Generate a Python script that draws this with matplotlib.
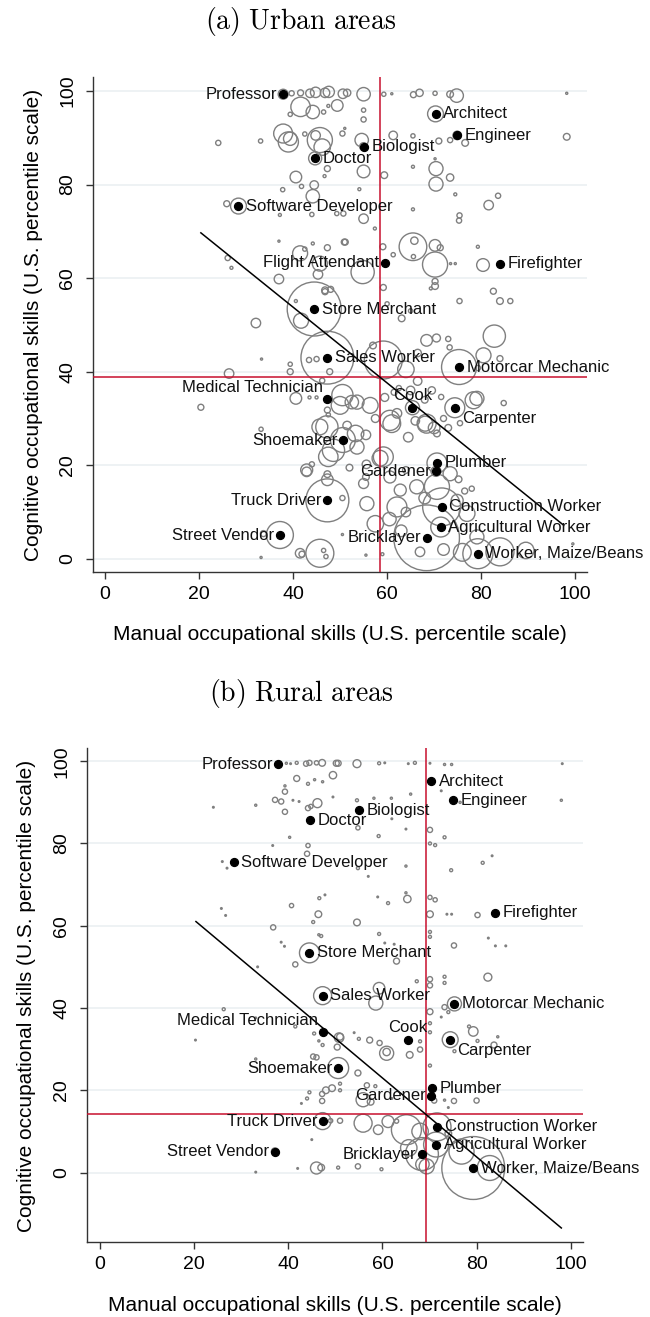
import numpy as np
import matplotlib
matplotlib.use('Agg')
import matplotlib.pyplot as plt

plt.rcParams['font.family'] = ['Liberation Sans', 'DejaVu Sans']
plt.rcParams['mathtext.fontset'] = 'cm'

# labelled occupations: (manual pct, cognitive pct) are the same in both areas
occ_names = ['Professor', 'Doctor', 'Software Developer', 'Architect', 'Engineer', 'Biologist',
             'Flight Attendant', 'Firefighter', 'Store Merchant', 'Sales Worker', 'Medical Technician',
             'Shoemaker', 'Truck Driver', 'Street Vendor', 'Motorcar Mechanic', 'Cook', 'Carpenter',
             'Plumber', 'Gardener', 'Construction Worker', 'Agricultural Worker', 'Bricklayer',
             'Worker, Maize/Beans']
occ_manual = [37.9, 44.7, 28.4, 70.3, 74.9, 55.0, 59.5, 84.0, 44.5, 47.3, 47.3, 50.6, 47.3, 37.2,
              75.3, 65.4, 74.4, 70.6, 70.4, 71.6, 71.4, 68.4, 79.3]
occ_cognitive = [99.3, 85.6, 75.4, 95.1, 90.5, 88.1, 63.3, 63.1, 53.4, 43.0, 34.2, 25.4, 12.5, 5.1,
                 41.0, 32.3, 32.3, 20.5, 18.7, 11.1, 6.8, 4.5, 1.1]
# employment weight (circle size); nan = occupation not present
occ_w_urban = [0.11, 0.19, 0.28, 0.28, 0.08, 0.07, 0.01, 0.01, 3.24, 3.1, 0.03, 0.69, 2.05, 0.81,
               1.36, 0.22, 0.44, 0.44, 0.11, 1.6, 0.44, 4.8, 1.0]
occ_w_rural = [0.005, 0.005, 0.005, 0.005, 0.005, 0.005, np.nan, 0.005, 0.44, 0.36, 0.005, 0.49,
               0.32, 0.06, 0.22, 0.005, 0.28, 0.005, 0.005, 0.87, 0.69, 1.2, 4.4]
label_side = ['l', 'r', 'r', 'r', 'r', 'r', 'l', 'r', 'r', 'r', 'ul', 'l', 'l', 'l', 'r', 'u', 'dr',
              'r', 'l', 'r', 'r', 'l', 'r']

# all other occupations, urban
urban_x = [39.7, 41.6, 43.6, 44.8, 46.8, 47.6, 50.6, 51.5, 55.0, 59.3, 61.0, 65.6, 66.9, 70.2, 73.4, 74.8, 98.2,
           41.6, 44.2, 39.4, 46.5, 47.5, 49.4, 55.0, 55.0,
           37.9, 39.4, 39.0, 42.5, 45.7, 46.2, 44.8, 50.5, 51.0, 54.6, 61.3, 65.5, 71.0, 73.4, 76.6, 98.2, 24.1, 33.1,
           47.3, 40.6, 41.8, 44.5, 44.2, 37.8, 46.7, 55.0, 59.4, 65.5, 70.4, 70.4, 73.4, 70.2,
           54.1, 74.5, 83.6, 81.6, 65.5, 75.4, 75.3, 55.0, 57.4, 50.7, 25.9, 37.2, 44.0, 49.3,
           37.0, 41.5, 42.5, 44.2, 47.3, 50.9, 26.1, 26.9, 37.0, 45.3, 46.8, 45.7, 51.1, 59.1, 61.3, 65.5, 65.8,
           65.6, 70.2, 71.3, 70.2, 73.5, 74.5, 79.3, 80.4, 54.8, 59.2, 69.3, 70.2, 70.2, 82.6,
           75.4, 84.0, 86.2, 63.1, 65.0, 32.1, 40.6, 41.7, 46.8, 48.0, 60.0,
           82.8, 68.4, 70.5, 73.0, 73.3, 59.2, 80.5, 84.0, 79.3, 33.3, 39.4, 39.4, 26.4, 43.4, 45.0, 47.8,
           46.2, 64.0, 66.5, 57.0,
           20.4, 40.6, 43.5, 45.0, 47.3, 47.5, 50.5, 52.5, 50.0, 53.6, 56.4, 59.5, 61.5, 62.5, 65.0, 66.5,
           69.5, 71.5, 78.4, 79.1, 84.8, 68.0,
           60.6, 62.1, 68.4, 70.0, 61.0, 68.1, 70.6, 47.2, 45.7, 53.3, 48.6, 53.6, 59.2, 47.5, 42.9, 44.0,
           47.3, 47.3, 33.2, 58.5, 55.5, 57.5, 64.5, 66.0, 73.0, 75.5, 72.0, 51.5, 55.6,
           66.3, 62.8, 62.1, 55.7, 55.0, 60.6, 70.6, 73.4, 74.9, 77.0, 79.1, 42.9, 50.5, 55.5, 52.0, 64.0,
           68.0, 75.2, 76.5, 78.0, 57.5, 60.5, 63.0, 64.0,
           84.0, 76.0, 72.0, 67.0, 45.7, 46.5, 47.0, 41.9, 41.5, 33.2, 33.7, 50.5, 59.0, 55.5, 89.5, 99.5]
urban_y = [99.5, 99.6, 99.5, 99.7, 99.6, 99.8, 99.4, 99.6, 99.3, 99.3, 99.4, 99.2, 99.6, 99.5, 99.3, 99.0, 99.5,
           96.6, 95.5, 95.0, 95.5, 96.8, 96.9, 95.9, 93.9,
           90.9, 89.8, 89.1, 90.8, 89.5, 88.0, 90.5, 90.9, 92.0, 89.5, 90.5, 90.4, 89.3, 89.5, 88.9, 90.2, 88.9, 89.3,
           83.4, 81.6, 79.6, 79.9, 77.5, 78.9, 81.8, 82.8, 82.0, 83.8, 83.4, 80.1, 81.5, 85.5,
           79.0, 77.9, 77.6, 75.6, 74.7, 73.4, 72.3, 72.7, 70.6, 73.8, 75.9, 73.5, 73.6, 73.8,
           67.9, 65.3, 66.2, 67.4, 66.5, 67.7, 64.3, 62.2, 59.8, 60.8, 57.4, 63.1, 67.7, 66.7, 65.0, 66.7, 68.0,
           64.6, 67.0, 66.5, 62.9, 63.1, 63.1, 66.7, 62.8, 61.3, 58.0, 57.8, 58.3, 59.3, 57.2,
           55.1, 55.1, 55.1, 51.4, 53.0, 50.4, 55.1, 50.9, 57.1, 57.6, 54.5,
           47.6, 46.7, 47.2, 47.0, 45.2, 42.5, 43.5, 42.8, 40.8, 42.7, 41.6, 40.0, 39.6, 42.5, 42.7, 40.0,
           38.1, 40.5, 44.0, 45.6,
           32.4, 34.3, 34.5, 34.5, 31.8, 30.8, 35.0, 33.5, 32.8, 33.5, 32.8, 34.5, 35.6, 36.5, 36.0, 38.0,
           36.0, 34.6, 33.9, 34.3, 33.3, 34.0,
           29.6, 31.1, 28.9, 28.0, 28.9, 28.9, 26.8, 28.2, 28.2, 26.8, 23.2, 23.9, 21.8, 21.8, 18.6, 20.2,
           18.1, 16.9, 27.7, 21.5, 26.5, 30.0, 26.0, 29.5, 28.0, 29.0, 30.0, 28.5, 20.2,
           15.4, 14.7, 11.1, 11.8, 16.1, 17.5, 15.4, 18.2, 12.5, 9.7, 4.7, 19.0, 13.0, 17.5, 19.5, 19.0,
           13.0, 17.0, 14.5, 15.0, 7.5, 8.5, 6.0, 10.0,
           1.5, 1.4, 2.0, 1.5, 1.2, 1.8, 0.5, 1.0, 1.2, 0.3, 5.4, 5.2, 1.0, 0.8, 1.8, 3.2]
urban_w = [0.03, 0.04, 0.08, 0.12, 0.10, 0.14, 0.10, 0.06, 0.20, 0.02, 0.005, 0.04, 0.06, 0.02, 0.05, 0.20, 0.005,
           0.42, 0.2, 0.02, 0.02, 0.01, 0.15, 0.02, 0.03,
           0.4, 0.2, 0.45, 0.02, 0.7, 0.3, 0.1, 0.03, 0.005, 0.2, 0.08, 0.02, 0.04, 0.03, 0.05, 0.05, 0.03, 0.02,
           0.04, 0.15, 0.02, 0.08, 0.2, 0.02, 0.01, 0.18, 0.05, 0.01, 0.22, 0.22, 0.06, 0.005,
           0.01, 0.01, 0.03, 0.1, 0.01, 0.03, 0.03, 0.1, 0.01, 0.03, 0.04, 0.01, 0.02, 0.02,
           0.005, 0.25, 0.02, 0.01, 0.04, 0.04, 0.03, 0.01, 0.1, 0.1, 0.05, 0.25, 0.04, 0.04, 0.02, 0.85, 0.06,
           0.02, 0.15, 0.04, 0.7, 0.005, 0.005, 0.01, 0.18, 0.6, 0.04, 0.01, 0.05, 0.04, 0.04,
           0.03, 0.05, 0.03, 0.05, 0.02, 0.1, 0.01, 0.25, 0.04, 0.04, 0.02,
           0.55, 0.15, 0.07, 0.03, 0.03, 1.6, 0.25, 0.04, 0.03, 0.005, 0.02, 0.04, 0.1, 0.03, 0.03, 0.04,
           0.03, 0.3, 0.06, 0.05,
           0.04, 0.15, 0.01, 0.01, 0.04, 0.02, 0.5, 0.2, 0.35, 0.22, 0.28, 0.07, 0.04, 0.03, 0.08, 0.08,
           0.06, 0.03, 0.32, 0.22, 0.03, 0.05,
           0.45, 0.1, 0.4, 0.15, 0.35, 0.25, 0.05, 0.55, 0.28, 0.3, 0.55, 0.22, 0.44, 0.42, 0.1, 0.03,
           0.05, 0.15, 0.02, 0.28, 0.1, 0.07, 0.1, 0.08, 0.05, 0.03, 0.04, 0.08, 0.08,
           0.22, 0.16, 0.44, 0.22, 0.11, 0.16, 0.7, 0.22, 0.16, 0.28, 0.22, 0.16, 0.03, 0.05, 0.05, 0.05,
           0.15, 0.05, 0.04, 0.03, 0.3, 0.2, 0.15, 0.1,
           0.87, 0.35, 0.15, 0.1, 0.87, 0.02, 0.02, 0.04, 0.1, 0.005, 0.04, 0.005, 0.01, 0.005, 0.3, 0.005]

# all other occupations, rural
rural_x = [39.6, 40.5, 41.8, 43.8, 44.5, 46.0, 47.2, 50.2, 50.6, 54.6, 59.3, 60.5, 65.5, 66.9, 70.1, 73.2, 74.7, 98.2,
           41.8, 49.5, 39.3, 44.2, 45.6, 47.3, 39.3, 37.2, 38.5, 39.3, 41.0, 42.3, 44.2, 46.2, 44.8, 49.5, 24.1,
           33.1, 54.6, 58.2, 61.9, 66.0, 72.5, 76.5, 98.0, 54.8, 62.0,
           40.3, 44.2, 44.0, 36.7, 26.0, 27.0, 70.1, 73.2, 70.1, 71.2, 59.2, 65.0, 81.3, 83.3, 74.6, 65.0, 54.8, 57.0,
           65.3, 65.0, 70.1, 71.2, 61.2, 59.0, 70.1, 73.7, 74.7, 80.2, 54.6, 59.3, 70.1, 70.1, 75.2, 82.5, 84.0,
           86.2, 40.7, 46.4, 45.3, 36.8, 47.0, 47.8, 46.6, 25.8, 26.7, 38.5,
           82.4, 73.2, 73.2, 67.3, 70.1, 70.1, 59.3, 58.6, 41.5, 46.5, 39.2, 33.5, 63.0, 60.5, 62.5,
           70.1, 73.2, 74.0, 72.5, 79.3, 78.4, 84.5, 83.7, 80.2, 70.1, 70.1, 68.0, 68.0, 65.8, 60.9, 60.9, 59.4,
           57.3, 55.0, 51.0, 54.0, 26.3, 33.1, 20.3, 41.5, 45.5, 46.5, 47.3, 50.8, 50.4, 45.3, 46.0, 33.1, 75.3,
           54.8, 51.0, 56.7, 58.5, 55.9, 57.5, 62.0, 70.1, 71.0, 73.2, 75.2, 80.0, 74.0, 47.2, 47.2, 49.3, 48.0,
           51.0, 44.5, 44.0, 42.8,
           55.9, 51.0, 49.0, 59.1, 61.2, 65.1, 69.4, 68.5, 76.8, 82.8, 74.0, 54.8, 59.8, 46.0, 47.0, 42.0, 50.6,
           33.1, 45.0, 65.6, 68.0, 63.0]
rural_y = [99.5, 99.4, 99.6, 99.4, 99.6, 99.6, 99.6, 99.5, 99.5, 99.4, 99.5, 99.6, 99.4, 99.6, 99.5, 99.2, 99.2, 99.4,
           95.8, 96.6, 94.0, 94.5, 95.5, 95.0, 92.6, 90.6, 90.2, 87.7, 90.5, 90.2, 88.6, 89.8, 89.0, 91.3, 88.8,
           89.3, 90.5, 91.0, 91.0, 92.0, 92.8, 90.0, 90.5, 83.8, 86.0,
           81.5, 79.5, 77.5, 79.5, 75.6, 74.0, 83.3, 81.5, 80.0, 79.6, 81.8, 83.5, 75.3, 77.0, 73.5, 74.5, 74.0, 72.0,
           66.5, 68.0, 66.9, 66.3, 65.5, 67.0, 62.8, 62.8, 62.8, 62.6, 60.8, 58.0, 58.5, 57.3, 55.2, 57.0, 55.1,
           55.1, 64.9, 62.8, 60.9, 59.6, 57.5, 67.5, 66.7, 64.2, 62.5, 56.0,
           47.5, 47.6, 46.1, 46.5, 47.0, 45.5, 44.8, 41.2, 50.6, 57.8, 55.0, 50.0, 51.4, 55.8, 55.5,
           39.1, 40.2, 39.0, 37.8, 34.3, 35.5, 33.0, 31.0, 32.0, 36.3, 34.1, 31.9, 29.9, 28.6, 29.0, 29.3, 31.5,
           32.2, 32.5, 33.0, 34.0, 39.7, 37.6, 32.2, 35.5, 33.8, 32.0, 31.0, 32.8, 30.5, 28.2, 28.0, 27.6, 29.5,
           24.2, 21.6, 21.2, 21.0, 17.7, 17.2, 18.0, 26.0, 17.5, 17.6, 17.4, 17.5, 15.8, 17.4, 19.1, 20.5, 20.0,
           20.0, 19.5, 18.0, 16.8,
           12.0, 12.6, 12.6, 10.4, 12.4, 10.4, 1.5, 2.0, 5.1, 1.1, 9.5, 1.5, 0.8, 1.1, 1.2, 1.0, 1.2,
           0.1, 8.0, 6.0, 10.0, 12.5]
rural_w = [0.005, 0.003, 0.01, 0.03, 0.03, 0.02, 0.05, 0.04, 0.04, 0.07, 0.01, 0.003, 0.003, 0.01, 0.003, 0.005, 0.005, 0.003,
           0.04, 0.06, 0.005, 0.01, 0.005, 0.005, 0.03, 0.03, 0.03, 0.03, 0.003, 0.003, 0.03, 0.09, 0.02, 0.003, 0.003,
           0.005, 0.01, 0.005, 0.005, 0.005, 0.003, 0.005, 0.005, 0.02, 0.003,
           0.005, 0.02, 0.03, 0.003, 0.003, 0.003, 0.03, 0.01, 0.01, 0.01, 0.01, 0.003, 0.01, 0.003, 0.01, 0.005, 0.01, 0.003,
           0.06, 0.005, 0.02, 0.02, 0.01, 0.003, 0.05, 0.003, 0.003, 0.03, 0.05, 0.01, 0.01, 0.01, 0.03, 0.003, 0.003,
           0.003, 0.02, 0.05, 0.01, 0.03, 0.01, 0.003, 0.01, 0.003, 0.003, 0.003,
           0.07, 0.01, 0.01, 0.01, 0.03, 0.03, 0.15, 0.22, 0.03, 0.005, 0.003, 0.003, 0.04, 0.003, 0.003,
           0.04, 0.03, 0.01, 0.003, 0.1, 0.01, 0.005, 0.04, 0.01, 0.01, 0.01, 0.01, 0.03, 0.05, 0.22, 0.06, 0.03,
           0.04, 0.01, 0.05, 0.003, 0.01, 0.003, 0.003, 0.01, 0.01, 0.005, 0.01, 0.1, 0.04, 0.03, 0.03, 0.005, 0.01,
           0.04, 0.01, 0.03, 0.01, 0.22, 0.05, 0.003, 0.01, 0.03, 0.005, 0.03, 0.03, 0.003, 0.03, 0.03, 0.05, 0.05,
           0.01, 0.01, 0.01, 0.003,
           0.36, 0.03, 0.02, 0.1, 0.16, 1.0, 0.25, 0.2, 0.7, 0.69, 0.05, 0.03, 0.01, 0.16, 0.05, 0.003, 0.01,
           0.003, 0.003, 0.3, 0.3, 0.02]

# weighted means (red lines) and fitted line (black)
urban_mean_manual, urban_mean_cog = 58.5, 38.9
rural_mean_manual, rural_mean_cog = 69.2, 14.3
urban_fit = (86.2, -0.81, 20.4, 97.5)   # intercept, slope, x from, x to
rural_fit = (80.6, -0.96, 20.4, 98.0)

GRAY = '#7f7f7f'
RED = '#c8102e'
SIZE_K = 466.0


def draw_panel(ax, bx, by, bw, w_occ, mean_m, mean_c, fit, ylim):
    for yv in range(0, 101, 20):
        ax.axhline(yv, color='#e9eff1', lw=1.1, zorder=0)
    allx = list(bx) + [m for m, w in zip(occ_manual, w_occ) if not np.isnan(w)]
    ally = list(by) + [c for c, w in zip(occ_cognitive, w_occ) if not np.isnan(w)]
    allw = list(bw) + [w for w in w_occ if not np.isnan(w)]
    ax.scatter(allx, ally, s=np.array(allw) * SIZE_K, facecolors='none',
               edgecolors=GRAY, linewidths=1.0, zorder=2)
    ax.axvline(mean_m, color=RED, lw=1.1, zorder=3)
    ax.axhline(mean_c, color=RED, lw=1.1, zorder=3)
    a, b, x0, x1 = fit
    xs = np.array([x0, x1])
    ax.plot(xs, a + b * xs, color='black', lw=1.1, zorder=4)

    for name, m, c, w, side in zip(occ_names, occ_manual, occ_cognitive, w_occ, label_side):
        if np.isnan(w):
            continue
        ax.scatter([m], [c], s=32, color='black', zorder=5)
        if side == 'r':
            off, ha, va = (5.5, 0), 'left', 'center'
        elif side == 'l':
            off, ha, va = (-4, 0), 'right', 'center'
        elif side == 'ul':
            off, ha, va = (-3.5, 8), 'right', 'center'
        elif side == 'u':
            off, ha, va = (0, 9), 'center', 'center'
        else:
            off, ha, va = (5, -8), 'left', 'center'
        ax.annotate(name, (m, c), xytext=off, textcoords='offset points', ha=ha, va=va,
                    fontsize=12, color='#111111', zorder=6)

    ax.set_xlim(-2.55, 102.5)
    ax.set_ylim(*ylim)
    ax.set_xticks(range(0, 101, 20))
    ax.set_yticks(range(0, 101, 20))
    ax.tick_params(axis='both', labelsize=14, length=5, width=1.0, color='#333333')
    ax.tick_params(axis='x', pad=5)
    ax.tick_params(axis='y', pad=7)
    for lab in ax.get_yticklabels():
        lab.set_rotation(90)
        lab.set_va('center')
    for s in ['top', 'right']:
        ax.spines[s].set_visible(False)
    for s in ['left', 'bottom']:
        ax.spines[s].set_color('#333333')
        ax.spines[s].set_linewidth(1.0)
    ax.set_xlabel('Manual occupational skills (U.S. percentile scale)', fontsize=15, labelpad=16)
    ax.set_ylabel('Cognitive occupational skills (U.S. percentile scale)', fontsize=15, labelpad=12)


fig = plt.figure(figsize=(6.5, 13.17), dpi=100)
ax1 = fig.add_axes([0.143, 0.5657, 0.760, 0.3759])
ax2 = fig.add_axes([0.1334, 0.0566, 0.7635, 0.3751])

draw_panel(ax1, urban_x, urban_y, urban_w, occ_w_urban, urban_mean_manual, urban_mean_cog,
           urban_fit, (-2.8, 103))
draw_panel(ax2, rural_x, rural_y, rural_w, occ_w_rural, rural_mean_manual, rural_mean_cog,
           rural_fit, (-17.0, 103.1))
ax2.set_xlim(-2.8, 102.6)

fig.text(0.463, 1 - 22 / 1317, r'$\mathrm{(a)\ Urban\ areas}$', fontsize=20, ha='center', va='center')
fig.text(0.463, 1 - 693 / 1317, r'$\mathrm{(b)\ Rural\ areas}$', fontsize=20, ha='center', va='center')

fig.savefig('out.png', dpi=100)
